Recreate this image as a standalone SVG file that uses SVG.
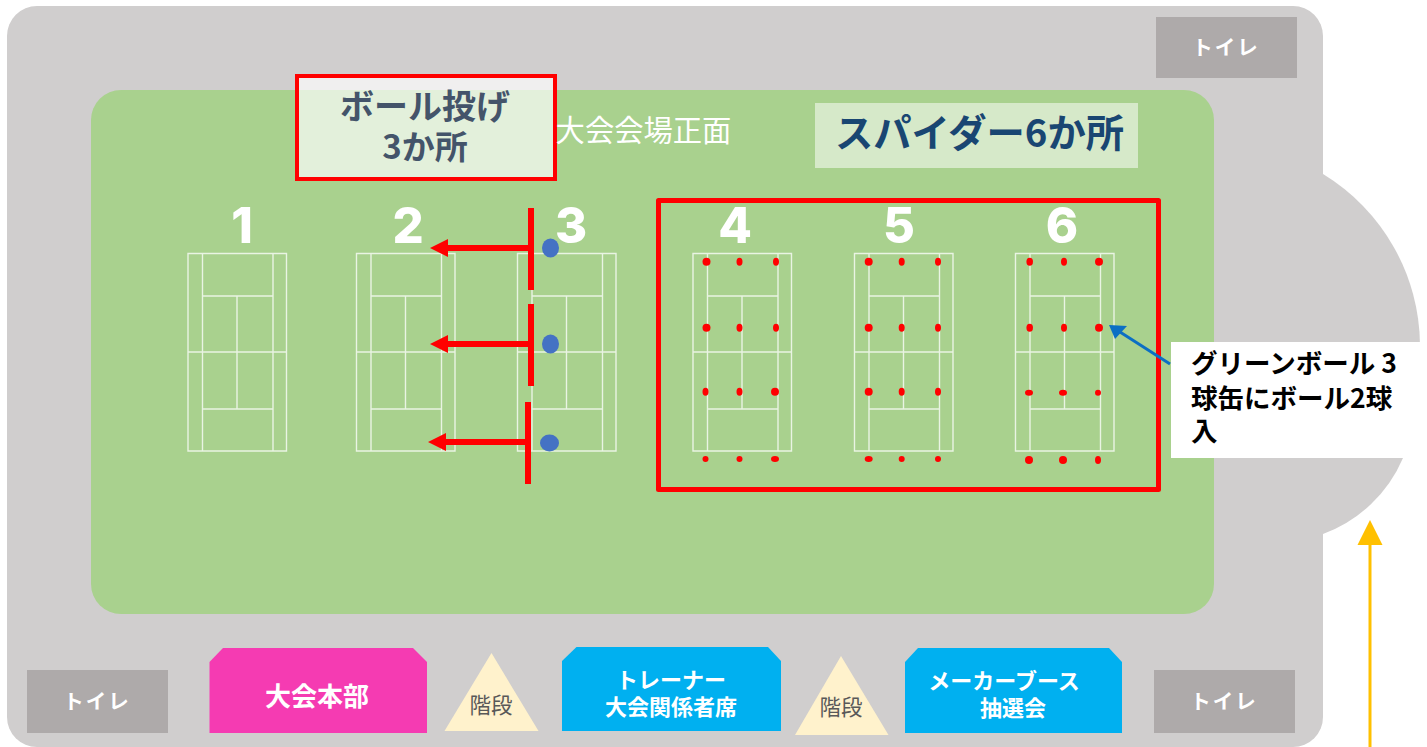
<svg xmlns="http://www.w3.org/2000/svg" width="1427" height="747" viewBox="0 0 1427 747">
<style>
text{font-family:"Noto Sans CJK JP","Noto Sans",sans-serif;text-anchor:middle}
.wc{fill:#fff;font-weight:700;font-size:22px}
.tl{fill:#fff;font-weight:700;font-size:20.500px;letter-spacing:2px}
.toilet{fill:#aeaaaa}
.num{font-family:Inter,"Liberation Sans",sans-serif;font-weight:800;font-size:49px;fill:#fff}
.cl{fill:none;stroke:#fff;stroke-opacity:.75;stroke-width:1.4}
.rd{fill:#f00}
.bd{fill:#4472c4}
.stair{fill:#fff2cc}
.st{fill:#595959;font-size:21.500px}
.blue{fill:#00b0f0}
.bar{stroke:#f00;stroke-width:6;fill:none}
.co{font-size:26.500px;font-weight:700;fill:#000;text-anchor:start}
</style>
<defs>
<g id="court"><path class="cl" d="M0.500 253.500H99V451H0.500ZM15 253.500V451M85.500 253.500V451M15 296H85.500M15 409H85.500M0.500 352H99M49.500 296V409"/></g>
</defs>
<g id="building"><rect x="7" y="6" width="1316" height="741" rx="30" fill="#d0cece"/><path d="M1323 174A202 202 0 0 1 1420 345L1420 400L1403 458A139 139 0 0 1 1323 534Z" fill="#d0cece"/></g>
<rect id="field" x="91" y="90" width="1123" height="524" rx="30" fill="#a9d18e"/>
<g id="toilet-top"><rect class="toilet" x="1156" y="17" width="141" height="61"/><text class="tl" x="1226" y="55">トイレ</text></g>
<g id="toilet-left"><rect class="toilet" x="27" y="670" width="141" height="63"/><text class="tl" x="97" y="709">トイレ</text></g>
<g id="toilet-right"><rect class="toilet" x="1154" y="670" width="141" height="63"/><text class="tl" x="1224" y="709">トイレ</text></g>
<g id="courts">
<g id="court1"><use href="#court" x="187.500"/><text class="num" x="242" y="243">1</text></g>
<g id="court2"><use href="#court" x="356"/><text class="num" x="408" y="243">2</text></g>
<g id="court3"><use href="#court" x="517"/><text class="num" x="571" y="243">3</text></g>
<g id="court4"><use href="#court" x="692.500"/><text class="num" x="735" y="243">4</text></g>
<g id="court5"><use href="#court" x="854"/><text class="num" x="899" y="243">5</text></g>
<g id="court6"><use href="#court" x="1015"/><text class="num" x="1062" y="243">6</text></g>
</g>
<g id="ball-label"><rect x="297" y="76" width="258" height="103" fill="#fff" fill-opacity=".68" stroke="#f00" stroke-width="4"/><text x="425" y="119" font-size="34" font-weight="700" fill="#44546a">ボール投げ</text><text x="425" y="159" font-size="33" font-weight="700" fill="#44546a">3か所</text></g>
<text id="front-label" x="643.500" y="141" font-size="29.300" fill="#fff">大会会場正面</text>
<g id="spider-label"><rect x="815" y="103" width="323" height="65" fill="#fff" fill-opacity=".52"/><text x="979.500" y="147" font-size="38.300" font-weight="700" fill="#194672">スパイダー6か所</text></g>
<rect id="spider-frame" x="658.500" y="200.500" width="500" height="289" fill="none" stroke="#f00" stroke-width="5" stroke-linejoin="round"/>
<g id="ball-throw">
<ellipse class="bd" cx="550.500" cy="248" rx="8.500" ry="9.500"/><ellipse class="bd" cx="550.500" cy="344" rx="8.500" ry="9.500"/><ellipse class="bd" cx="549.500" cy="443" rx="9.500" ry="8.500"/>
</g>
<g id="dots" class="rd">
<ellipse cx="706.500" cy="261.700" rx="4" ry="4"/><ellipse cx="739.500" cy="261.700" rx="3" ry="4"/><ellipse cx="776" cy="261.700" rx="3" ry="4"/>
<ellipse cx="706.500" cy="327.700" rx="4" ry="4"/><ellipse cx="739.500" cy="327.700" rx="3" ry="4"/><ellipse cx="776" cy="327.700" rx="3" ry="4"/>
<ellipse cx="705.500" cy="391.700" rx="3" ry="4"/><ellipse cx="739.500" cy="391.700" rx="3" ry="4"/><ellipse cx="775" cy="391.700" rx="4" ry="4"/>
<ellipse cx="705.500" cy="459" rx="3" ry="3"/><ellipse cx="739.500" cy="459" rx="3" ry="3"/><ellipse cx="775" cy="459" rx="4" ry="3"/>
<ellipse cx="868.700" cy="261.700" rx="4" ry="4"/><ellipse cx="901.700" cy="261.700" rx="3" ry="4"/><ellipse cx="938" cy="261.700" rx="3" ry="4"/>
<ellipse cx="868.700" cy="327.700" rx="4" ry="4"/><ellipse cx="901.700" cy="327.700" rx="3" ry="4"/><ellipse cx="938" cy="327.700" rx="3" ry="4"/>
<ellipse cx="868.700" cy="391.700" rx="4" ry="4"/><ellipse cx="901.700" cy="391.700" rx="3" ry="4"/><ellipse cx="938" cy="391.700" rx="3" ry="4"/>
<ellipse cx="868.700" cy="459" rx="4" ry="3"/><ellipse cx="901.700" cy="459" rx="3" ry="3"/><ellipse cx="938" cy="459" rx="3" ry="3"/>
<ellipse cx="1029.700" cy="261.700" rx="3.300" ry="4"/><ellipse cx="1064" cy="261.700" rx="3" ry="4"/><ellipse cx="1099" cy="261.700" rx="4" ry="4"/>
<ellipse cx="1029.700" cy="327.700" rx="3.300" ry="4"/><ellipse cx="1064" cy="327.700" rx="3" ry="4"/><ellipse cx="1099" cy="327.700" rx="4" ry="4"/>
<ellipse cx="1029" cy="392.700" rx="4" ry="3"/><ellipse cx="1063" cy="392.700" rx="4" ry="3"/><ellipse cx="1098" cy="392.700" rx="3" ry="3"/>
<ellipse cx="1029" cy="460" rx="4" ry="4"/><ellipse cx="1063" cy="460" rx="4" ry="4"/><ellipse cx="1098" cy="460" rx="3" ry="4"/>
</g>
<g id="callout"><rect x="1171" y="342" width="249" height="116" fill="#fff"/>
<text class="co" x="1191" y="373">グリーンボール 3</text>
<text class="co" x="1191" y="408">球缶にボール2球</text>
<text class="co" x="1191" y="441">入</text></g>
<g id="hq"><path d="M223 648H413L427 662V733H209.500V662Z" fill="#f53bb2"/><text x="317" y="706" font-size="26" font-weight="700" fill="#fff">大会本部</text></g>
<g id="stairs1"><path class="stair" d="M491.500 653L538.500 731H444.500Z"/><text class="st" x="491" y="713">階段</text></g>
<g id="trainer"><path class="blue" d="M576.500 647H768L781 661V731H562V661Z"/><text x="671" y="688" class="wc">トレーナー</text><text x="671" y="715" class="wc">大会関係者席</text></g>
<g id="stairs2"><path class="stair" d="M841 656L888.500 735H795Z"/><text class="st" x="841" y="715">階段</text></g>
<g id="maker"><path class="blue" d="M918 648H1109L1122 662V733H905V662Z"/><text x="1004" y="689" class="wc">メーカーブース</text><text x="1013" y="716" class="wc">抽選会</text></g>
<g id="connectors">
<path class="bar" d="M531 208V290M531 304V386M528 402V484"/>
<path d="M528 248H448M528 344H448M526 442H446" stroke="#f00" stroke-width="6" fill="none"/>
<path d="M430 248L448 239V257ZM430 344L448 335V353ZM428 442L446 433V451Z" fill="#f00"/>
<path d="M1170 364L1120 332" stroke="#0b6fc4" stroke-width="3" fill="none"/>
<path d="M1109 325L1127 326L1115 339Z" fill="#0b6fc4"/>
<path d="M1370 747V543" stroke="#ffc000" stroke-width="3" fill="none"/>
<path d="M1370 520L1382.500 545H1357.500Z" fill="#ffc000"/>
</g>
</svg>
